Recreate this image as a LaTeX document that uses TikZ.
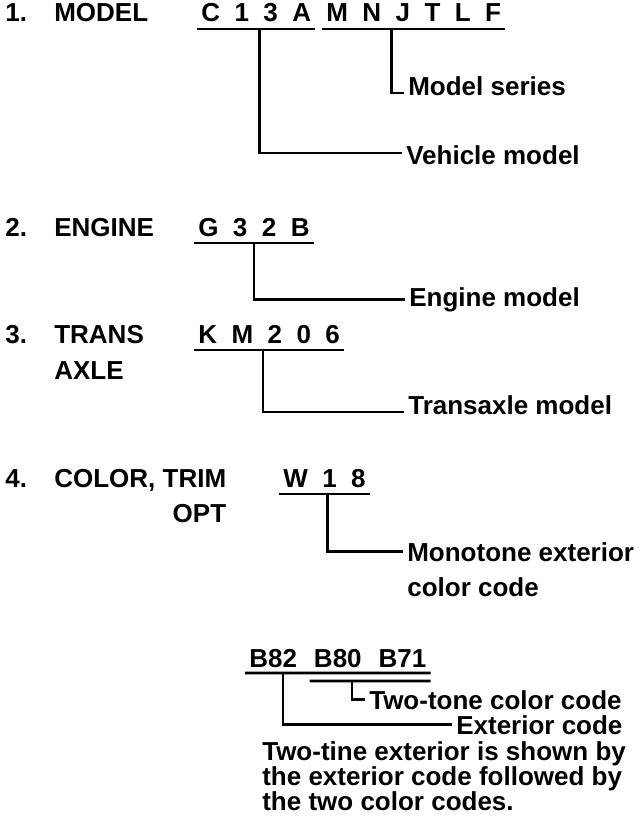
\documentclass[tikz,border=0pt]{standalone}
\usepackage{fontspec}
\setmainfont{Liberation Sans}
\usetikzlibrary{positioning}
\tikzset{
  lbl/.style={anchor=base west, inner xsep=3pt, inner ysep=0pt, font=\bfseries\fontsize{26}{25}\selectfont},
  note/.style={lbl, anchor=north west, align=left},
}
\begin{document}
\begin{tikzpicture}[x=1pt,y=-1pt,line width=2.6pt]
  \useasboundingbox (0,0) rectangle (640,822);

  % 1. model
  \node[lbl] (n1) at (1,21) {1.};
  \node[lbl] (model) at (50,21) {MODEL};
  \node[lbl] (c13a) at (197,21) {C~~1~~3~~A};
  \node[lbl] (mnjtlf) at (322,21) {M~~N~~J~~T~~L~~F};
  \node[lbl] (series) at (404,95) {Model series};
  \node[lbl] (vehicle) at (402,164) {Vehicle model};
  \draw ([yshift=-8pt]c13a.base west) -- ([yshift=-8pt]c13a.base east);
  \draw ([yshift=-8pt]mnjtlf.base west) -- ([yshift=-8pt]mnjtlf.base east);
  \draw ([xshift=-22pt,yshift=-8pt]mnjtlf.base) |- ([yshift=2pt]series.base west);
  \draw ([xshift=3pt,yshift=-8pt]c13a.base) |- ([yshift=11pt]vehicle.base west);

  % 2. engine
  \node[lbl] (n2) at (1,236) {2.};
  \node[lbl] (engine) at (50,236) {ENGINE};
  \node[lbl] (g32b) at (194,236) {G~~3~~2~~B};
  \node[lbl] (engmodel) at (405,306) {Engine model};
  \draw ([yshift=-7pt]g32b.base west) -- ([yshift=-7pt]g32b.base east);
  \draw ([yshift=-7pt]g32b.base) |- (engmodel.west);

  % 3. transaxle
  \node[lbl] (n3) at (1,343) {3.};
  \node[lbl] (trans) at (50,343) {TRANS};
  \node[lbl] (axle) at (50,379) {AXLE};
  \node[lbl] (km206) at (194,343) {K~~M~~2~~0~~6};
  \node[lbl] (tamodel) at (404,414) {Transaxle model};
  \draw ([yshift=-7pt]km206.base west) -- ([yshift=-7pt]km206.base east);
  \draw ([xshift=-6pt,yshift=-7pt]km206.base) |- ([yshift=2pt]tamodel.base west);

  % 4. color, trim
  \node[lbl] (n4) at (1,487) {4.};
  \node[lbl] (color) at (50,487) {COLOR, TRIM};
  \node[lbl, anchor=base east] (opt) at ([yshift=-35pt]color.base east) {OPT};
  \node[lbl] (w18) at (279,487) {W~~1~~8};
  \node[lbl] (mono) at (403,561) {Monotone exterior};
  \node[lbl] (colcode) at (403,596) {color code};
  \draw ([yshift=-7pt]w18.base west) -- ([yshift=-7pt]w18.base east);
  \draw ([xshift=3pt,yshift=-7pt]w18.base) |- (mono.west);

  % two-tone
  \node[lbl] (b82) at (245,667) {B82};
  \node[lbl, right=8.4pt of b82] (b80) {B80};
  \node[lbl, right=8.4pt of b80] (b71) {B71};
  \node[lbl] (twotone) at (365,709) {Two-tone color code};
  \node[lbl] (extcode) at (452,734) {Exterior code};
  \node[note] (remark) at (258,740) {Two-tine exterior is shown by\\the exterior code followed by\\the two color codes.};
  \draw ([yshift=-6pt]b82.base west) -- ([yshift=-6pt]b71.base east);
  \draw ([yshift=-14pt]b80.base west) -- ([yshift=-14pt]b71.base east);
  \draw ([xshift=14pt,yshift=-14pt]b80.base) |- (twotone.west);
  \draw ([xshift=10pt,yshift=-6pt]b82.base) |- (extcode.west);
\end{tikzpicture}
\end{document}
